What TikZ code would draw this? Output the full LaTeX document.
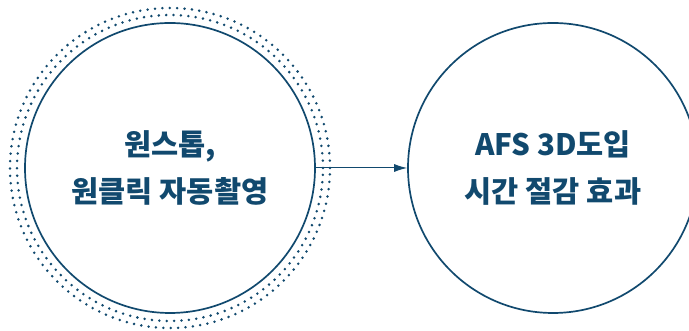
\documentclass[tikz,border=0pt]{standalone}
\usepackage{fontspec}
\setmainfont{Noto Sans CJK KR}
\usetikzlibrary{arrows.meta}
\definecolor{navy}{HTML}{11496E}
\tikzset{
  ring/.style={circle, draw=navy, line width=1.7pt, minimum size=290pt, inner sep=0pt,
    text=navy, font=\bfseries\fontsize{29.5}{47}\selectfont, align=center},
  dotring/.style={draw=navy, line width=2.8pt, line cap=round, dash pattern=on 0pt off 7.4pt},
  link/.style={draw=navy, line width=1pt, -{Latex[length=13pt,width=8pt]}}
}
\begin{document}
\begin{tikzpicture}[x=1pt,y=1pt]
\useasboundingbox (0,0) rectangle (689,331);
\node[ring] (a) at (170,163) {원스톱,\\원클릭 자동촬영};
\node[ring] (b) at (553,163) {AFS 3D도입\\시간 절감 효과};
\draw[dotring] (a.center) circle (153);
\draw[dotring] (a.center) circle (160);
\draw[link] (a.east) -- (b.west);
\end{tikzpicture}
\end{document}
